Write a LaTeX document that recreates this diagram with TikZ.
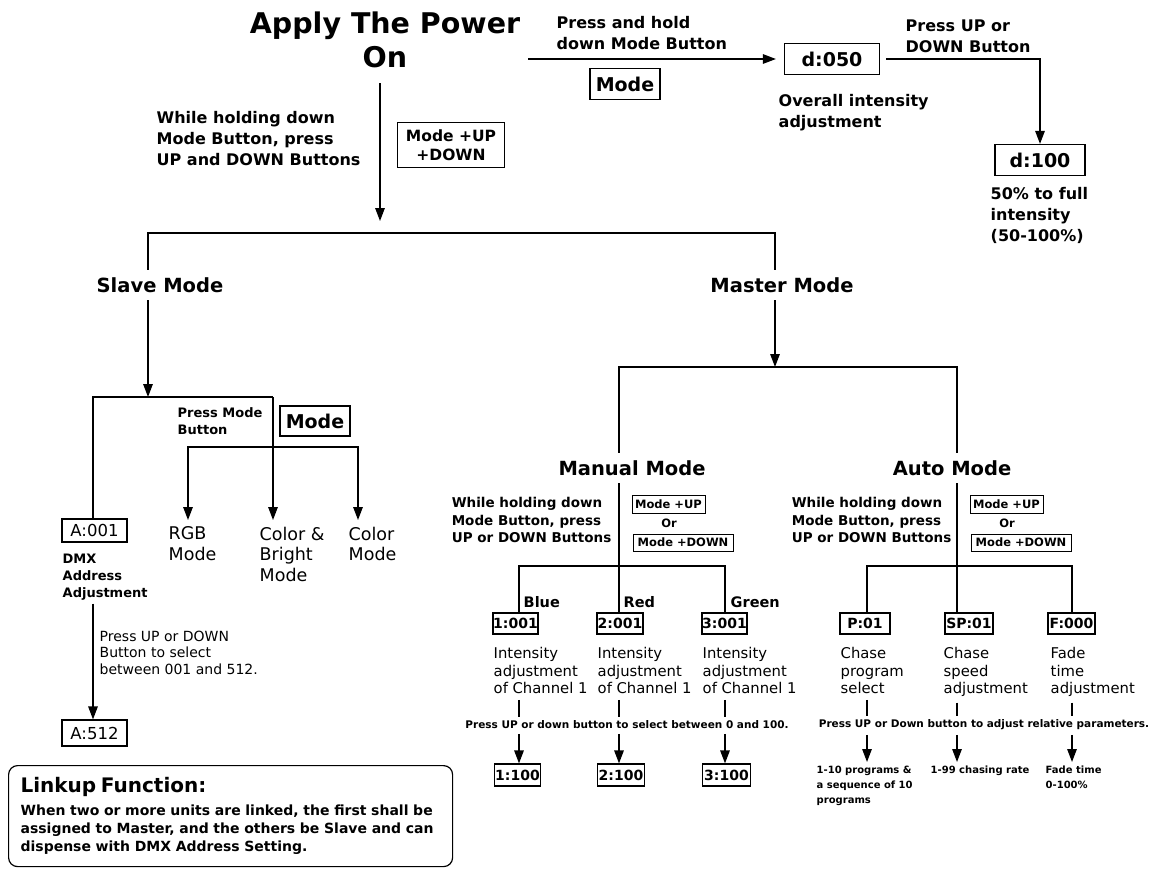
\documentclass[tikz,border=0pt]{standalone}
\usepackage{fontspec}
\setmainfont{DejaVu Sans}
\usepackage{tikz}
\usetikzlibrary{arrows.meta}

\newcommand{\fsz}[2]{\fontsize{#1}{#2}\selectfont}

\begin{document}
\begin{tikzpicture}[x=1pt,y=-1pt,line width=1.4pt,>={Triangle[length=13pt,width=9.5pt]},
  txt/.style={inner sep=0pt,align=left,font=\bfseries\fsz{16}{21}},
  head/.style={inner xsep=0pt,inner ysep=7pt,font=\bfseries\fsz{19.5}{22}},
  mode/.style={inner sep=0pt,align=left,font=\fsz{17.5}{20.5}},
  info/.style={inner sep=0pt,align=left,font=\fsz{14.8}{17.5}},
  hold/.style={inner sep=0pt,align=left,font=\bfseries\fsz{13.5}{17.5}},
  small/.style={inner sep=0pt,align=left,font=\bfseries\fsz{10}{15}},
  press/.style={inner sep=0pt,font=\bfseries\fsz{10.5}{12}},
  disp/.style={draw,line width=1.2pt,inner sep=0pt,minimum height=21pt,font=\bfseries\fsz{14}{16}},
  big/.style={draw,line width=1.2pt,inner sep=0pt,minimum height=31pt,font=\bfseries\fsz{19}{22}},
  key/.style={draw,line width=1pt,inner sep=0pt,font=\bfseries\fsz{11.5}{13}}]

  \fill[white] (0,0) rectangle (1151,868);
  \useasboundingbox (0,0) rectangle (1151,868);

  \node (power) [anchor=north,inner sep=0pt,align=center,font=\bfseries\fsz{28.5}{34}] at (385,11) {Apply The Power\\On};
  \node (holdtxt) [txt,anchor=north west] at (156,111) {While holding down\\Mode Button, press\\UP and DOWN Buttons};
  \node (updown) [draw,line width=1.2pt,inner sep=0pt,align=center,minimum width=107pt,minimum height=45pt,font=\bfseries\fsz{15.5}{19}] at (451,145) {Mode +UP\\+DOWN};
  \coordinate (top) at (380,233);
  \draw[->,shorten <=15pt,shorten >=12pt] (power.south -| top) -- (top);

  % overall intensity
  \coordinate (tstart) at (528,59);
  \node (d050) [big,minimum width=95pt] at (832,59) {d:050};
  \node (holdlbl) [txt,anchor=north west] at (556,16) {Press and hold\\down Mode Button};
  \node (modekey) [big,minimum width=70pt] at (625,84) {Mode};
  \node (overall) [txt,anchor=north west] at (778,94) {Overall intensity\\adjustment};
  \draw[->,shorten >=8pt] (tstart) -- (d050);
  \coordinate (dturn) at (1040,59);
  \node (d100) [big,minimum width=90pt] at (1040,160) {d:100};
  \node (uplbl) [txt,anchor=north west] at (905,19) {Press UP or\\DOWN Button};
  \node (full) [txt,anchor=north west] at (990,187) {50\% to full\\intensity\\(50-100\%)};
  \draw[->,shorten <=6pt] (d050) -- (dturn) -- (d100);

  % slave / master
  \coordinate (sj) at (148,233);
  \coordinate (mj) at (775,233);
  \node (slave) [head] at (160,285) {Slave Mode};
  \node (master) [head] at (782,285) {Master Mode};
  \draw (slave.north -| sj) -- (sj) -- (mj) -- (master.north -| mj);

  \coordinate (sb) at (148,397);
  \coordinate (sbl) at (93,397);
  \coordinate (sbr) at (273,397);
  \draw[->] (slave.south -| sb) -- (sb);
  \node (a001) [disp,font=\fsz{16.5}{18},minimum width=65pt,minimum height=23pt] at (94.5,530.5) {A:001};
  \node (cbright) [mode,anchor=north west] at (259,526) {Color \&\\Bright\\Mode};
  \draw (a001.north -| sbl) -- (sbl) -- (sbr);
  \draw[->,shorten >=6pt] (sbr) -- (cbright.north -| sbr);

  \node (presslbl) [inner sep=0pt,align=left,anchor=north west,font=\bfseries\fsz{13}{17}] at (177,407) {Press Mode\\Button};
  \node (modekey2) [big,minimum width=70pt,minimum height=30pt] at (315,421) {Mode};
  \coordinate (mbl) at (188,447);
  \coordinate (mbr) at (358,447);
  \node (rgb) [mode,anchor=north west] at (168,526) {RGB\\Mode};
  \node (color) [mode,anchor=north west] at (348,526) {Color\\Mode};
  \draw[<->,shorten <=6pt,shorten >=6pt] (rgb.north -| mbl) -- (mbl) -- (mbr) -- (color.north -| mbr);

  \node (dmx) [inner sep=0pt,align=left,anchor=north west,font=\bfseries\fsz{13}{17}] at (62,553) {DMX\\Address\\Adjustment};
  \node (a512) [disp,font=\fsz{16.5}{18},minimum width=65pt,minimum height=26pt] at (94.5,733) {A:512};
  \node (selA) [info,font=\fsz{14}{16.5},anchor=north west] at (99,630) {Press UP or DOWN\\Button to select\\between 001 and 512.};
  \draw[->,shorten <=3pt] (dmx.south -| sbl) -- (a512.north -| sbl);

  \node (linkup) [draw,line width=1.2pt,rounded corners=9pt,anchor=north west,text width=420pt,inner xsep=12pt,inner ysep=0pt,minimum height=101pt,align=left,font=\bfseries\fsz{14}{18}] at (8,765)
    {{\fsz{20}{22}Linkup Function:}\\[5pt]When two or more units are linked, the first shall be\\assigned to Master, and the others be Slave and can\\dispense with DMX Address Setting.};

  % manual / auto
  \coordinate (mb) at (775,367);
  \coordinate (manj) at (619,367);
  \coordinate (autoj) at (957,367);
  \draw[->] (master.south -| mb) -- (mb);
  \node (manual) [head] at (632,468) {Manual Mode};
  \node (auto) [head] at (952,468) {Auto Mode};
  \draw (manual.north -| manj) -- (manj) -- (autoj) -- (auto.north -| autoj);

  \node (manhold) [hold,anchor=north east] at (612,497) {While holding down\\Mode Button, press\\UP or DOWN Buttons};
  \node (manup) [key,minimum width=73pt,minimum height=18pt] at (668.5,504) {Mode +UP};
  \node (manor) [inner sep=0pt,font=\bfseries\fsz{11.5}{13}] at (669,523.5) {Or};
  \node (mandown) [key,minimum width=100pt,minimum height=17pt] at (683,542.5) {Mode +DOWN};

  \coordinate (mb1) at (519,566);
  \coordinate (mb2) at (619,566);
  \coordinate (mb3) at (725,566);
  \node (ch1) [disp,minimum width=45pt] at (515.5,623.5) {1:001};
  \node (ch2) [disp,minimum width=46pt] at (620,623.5) {2:001};
  \node (ch3) [disp,minimum width=45pt] at (724.5,623.5) {3:001};
  \node (blue) [anchor=west,inner sep=0pt,font=\bfseries\fsz{14.5}{16}] at (523,602) {Blue};
  \node (red) [anchor=west,inner sep=0pt,font=\bfseries\fsz{14.5}{16}] at (623,602) {Red};
  \node (green) [anchor=west,inner sep=0pt,font=\bfseries\fsz{14.5}{16}] at (730,602) {Green};
  \draw (manual.south -| mb2) -- (ch2.north -| mb2);
  \draw (ch1.north -| mb1) -- (mb1) -- (mb3) -- (ch3.north -| mb3);

  \node (int1) [info,anchor=north west] at (493,647) {Intensity\\adjustment\\of Channel 1};
  \node (int2) [info,anchor=north west] at (597,647) {Intensity\\adjustment\\of Channel 1};
  \node (int3) [info,anchor=north west] at (702,647) {Intensity\\adjustment\\of Channel 1};
  \node (manpress) [press] at (627,725) {Press UP or down button to select between 0 and 100.};
  \node (r1) [disp,minimum width=46pt,minimum height=22pt] at (517.5,775) {1:100};
  \node (r2) [disp,minimum width=47pt,minimum height=22pt] at (621,775) {2:100};
  \node (r3) [disp,minimum width=48pt,minimum height=22pt] at (726.5,775) {3:100};
  \foreach \c/\t/\r in {mb1/int1/r1,mb2/int2/r2,mb3/int3/r3} {
    \draw[shorten <=5pt,shorten >=3pt] (\t.south -| \c) -- (manpress.north -| \c);
    \draw[->,shorten <=4pt] (manpress.south -| \c) -- (\r.north -| \c);
  }

  \node (autohold) [hold,anchor=north east] at (952,497) {While holding down\\Mode Button, press\\UP or DOWN Buttons};
  \node (autoup) [key,minimum width=73pt,minimum height=18pt] at (1006.5,504) {Mode +UP};
  \node (autoor) [inner sep=0pt,font=\bfseries\fsz{11.5}{13}] at (1007,523.5) {Or};
  \node (autodown) [key,minimum width=100pt,minimum height=17pt] at (1021,542.5) {Mode +DOWN};

  \coordinate (ab1) at (867,566);
  \coordinate (ab2) at (957,566);
  \coordinate (ab3) at (1072,566);
  \node (prog) [disp,minimum width=50pt] at (865,623.5) {P:01};
  \node (speed) [disp,minimum width=48pt] at (969,623.5) {SP:01};
  \node (fade) [disp,minimum width=47pt] at (1071.5,623.5) {F:000};
  \draw (auto.south -| ab2) -- (speed.north -| ab2);
  \draw (prog.north -| ab1) -- (ab1) -- (ab3) -- (fade.north -| ab3);

  \node (chase) [info,anchor=north west] at (840,647) {Chase\\program\\select};
  \node (chspeed) [info,anchor=north west] at (943,647) {Chase\\speed\\adjustment};
  \node (fadet) [info,anchor=north west] at (1050,647) {Fade\\time\\adjustment};
  \node (autopress) [press] at (984,725) {Press UP or Down button to adjust relative parameters.};
  \node (res1) [small,anchor=north west] at (816,765) {1-10 programs \&\\a sequence of 10\\programs};
  \node (res2) [small,anchor=north west] at (930,765) {1-99 chasing rate};
  \node (res3) [small,anchor=north west] at (1045,765) {Fade time\\0-100\%};
  \foreach \c/\t/\r in {ab1/chase/res1,ab2/chspeed/res2,ab3/fadet/res3} {
    \draw[shorten <=5pt,shorten >=3pt] (\t.south -| \c) -- (autopress.north -| \c);
    \draw[->,shorten <=4pt,shorten >=3pt] (autopress.south -| \c) -- (\r.north -| \c);
  }
\end{tikzpicture}
\end{document}
